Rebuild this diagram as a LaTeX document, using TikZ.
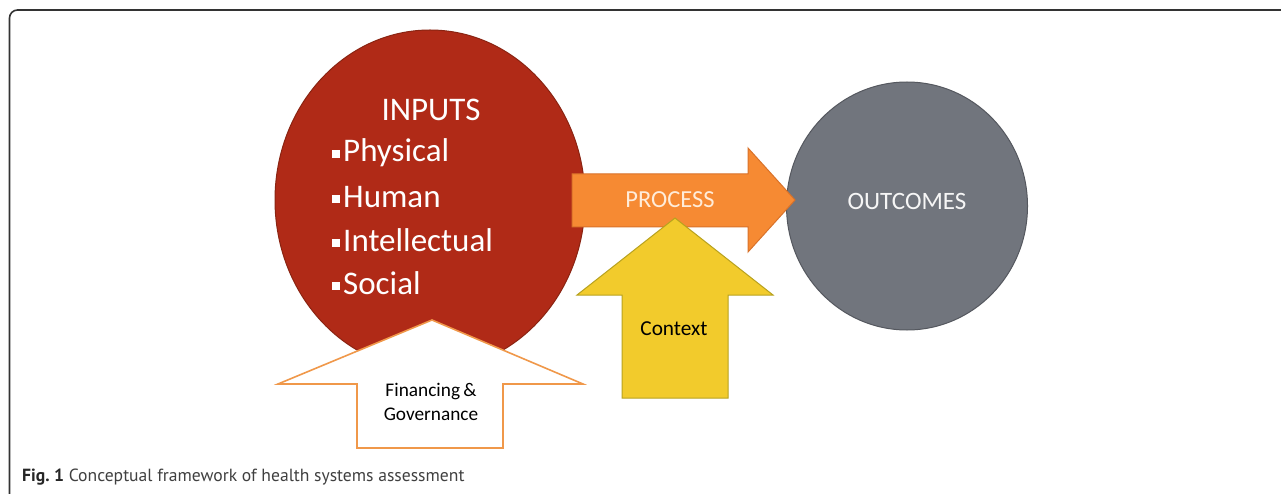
\documentclass[tikz,border=0pt]{standalone}
\usepackage{fontspec}
\setmainfont{Carlito}
\newfontfamily\capfont{PT Sans}
\usetikzlibrary{shapes.geometric}
\definecolor{inred}{HTML}{B02A17}
\definecolor{inredb}{HTML}{8A2412}
\definecolor{outgray}{HTML}{71757D}
\definecolor{outgrayb}{HTML}{55585F}
\definecolor{procor}{HTML}{F68A33}
\definecolor{procorb}{HTML}{D9722A}
\definecolor{ctxy}{HTML}{F2CB2C}
\definecolor{ctxyb}{HTML}{B8A21F}
\definecolor{finb}{HTML}{F0984A}
\definecolor{frame}{HTML}{333333}
\newcommand{\sqb}{\raisebox{4pt}{\rule{8pt}{8pt}}\hspace{3pt}}
\tikzset{
  blob/.style={ellipse, draw, line width=1pt, inner sep=0pt},
  lbl/.style={inner sep=0pt, align=center},
  bullet/.style={inner sep=0pt, anchor=west, text=white, font=\fontsize{33}{36}\selectfont},
}
\begin{document}
\begin{tikzpicture}[x=1pt,y=-1pt]
\useasboundingbox (0,0) rectangle (1281,494);
\fill[white] (0,0) rectangle (1281,494);
\draw[frame, line width=1.6pt, rounded corners=8pt] (9.5,494) -- (9.5,10) -- (1281,10);
% outcomes
\node[blob, fill=outgray, draw=outgrayb, minimum width=241pt, minimum height=248pt] (out) at (907,206) {};
\node[lbl, text=white!93!gray, font=\fontsize{25}{28}\selectfont] (outt) at (907,201) {OUTCOMES};
% inputs
\node[blob, fill=inred, draw=inredb, minimum width=310pt, minimum height=340pt] (in) at (430,200) {};
\node[lbl, text=white, font=\fontsize{33}{36}\selectfont] (int) at (431,110) {INPUTS};
\node[bullet] (b1) at (332,153) {\sqb Physical};
\node[bullet] (b2) at (332,197) {\sqb Human};
\node[bullet] (b3) at (332,240) {\sqb Intellectual};
\node[bullet] (b4) at (332,283) {\sqb Social};
% process arrow
\draw[fill=procor, draw=procorb, line width=1pt] (572,174) -- (748,174) -- (748,148) -- (795,200) -- (748,252) -- (748,227) -- (572,227) -- cycle;
\node[lbl, text=orange!15!white, font=\fontsize{24.5}{28}\selectfont] (proc) at (670,200) {PROCESS};
% context arrow
\draw[fill=ctxy, draw=ctxyb, line width=1pt] (675,218) -- (773,295) -- (728,295) -- (728,398) -- (622,398) -- (622,295) -- (577,295) -- cycle;
\node[lbl, text=black, font=\fontsize{21.3}{24}\selectfont] (ctx) at (674,329) {Context};
% financing arrow
\draw[fill=white, draw=finb, line width=1.6pt] (432,320) -- (583,384) -- (503,384) -- (503,448) -- (357,448) -- (357,384) -- (278,384) -- cycle;
\node[lbl, text=black, font=\fontsize{19.3}{24}\selectfont] (fin) at (431,402) {Financing\,\&\\Governance};
% caption
\node[inner sep=0pt, anchor=base west, text=black!75, font=\capfont\fontsize{17.6}{22}\selectfont] (cap) at (22,481) {\textbf{\color{black!85}Fig.~1} Conceptual framework of health systems assessment};
\end{tikzpicture}
\end{document}
